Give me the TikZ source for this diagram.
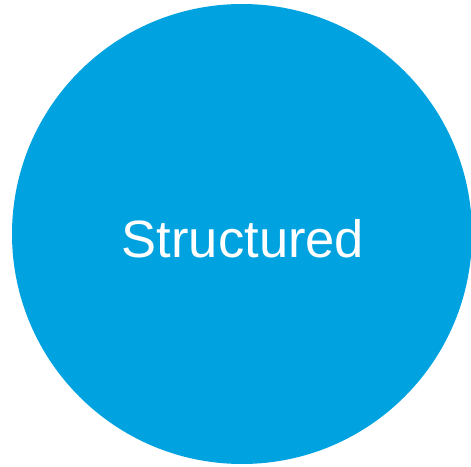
\documentclass[tikz,border=0pt]{standalone}
\usepackage{fontspec}
\setmainfont{Liberation Sans}
\usetikzlibrary{positioning}
\definecolor{blob-blue}{HTML}{00A3DF}
\tikzset{
  blob/.style={circle, fill=blob-blue, draw=none, minimum size=460pt, inner sep=0pt},
  blobtext/.style={text=white, font=\fontsize{52.5pt}{60pt}\selectfont, inner sep=0pt}
}
\begin{document}
\begin{tikzpicture}[x=1pt, y=1pt]
        \useasboundingbox (0,0) rectangle (471,466);
        % Circle with label
        \node[blob] (structured) at (242,232) {};
        \node[blobtext, anchor=base] (structuredlabel) at (243,208) {Structured};
      \end{tikzpicture}
\end{document}
